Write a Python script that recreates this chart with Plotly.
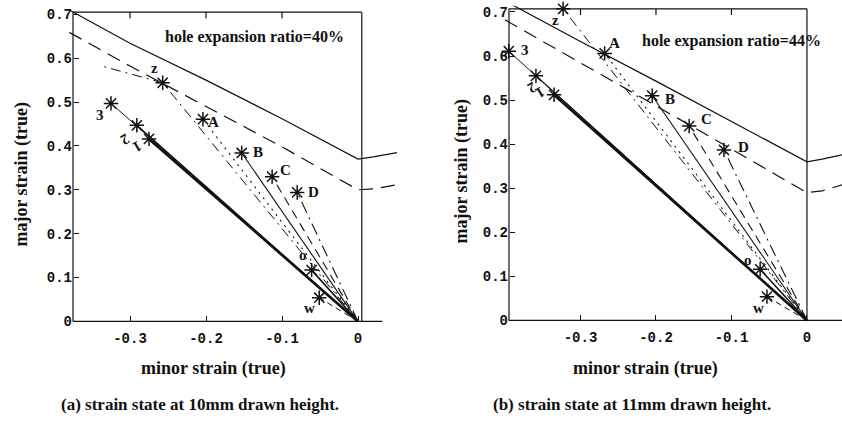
import plotly.graph_objects as go

W, H = 842, 425

# ---------------- data ----------------
# forming-limit curves, panel (a)
fld_a_x = [-0.38, -0.30, -0.20, -0.10, 0.0, 0.02, 0.052]
fld_a_solid_y = [0.710, 0.634, 0.550, 0.462, 0.370, 0.375, 0.385]
fld_a_dash_y = [0.659, 0.582, 0.490, 0.398, 0.300, 0.302, 0.312]
# forming-limit curves, panel (b)
fld_b_x = [-0.40, -0.30, -0.20, -0.10, 0.0, 0.02, 0.047]
fld_b_solid_y = [0.725, 0.633, 0.543, 0.452, 0.360, 0.366, 0.376]
fld_b_dash_y = [0.682, 0.585, 0.487, 0.389, 0.290, 0.294, 0.308]

# measured points (end of strain paths)
point_labels = ["1", "2", "3", "z", "A", "B", "C", "D", "o", "w"]
pts_a_x = [-0.275, -0.291, -0.325, -0.257, -0.204, -0.153, -0.113, -0.080, -0.061, -0.051]
pts_a_y = [0.416, 0.447, 0.497, 0.544, 0.461, 0.384, 0.330, 0.294, 0.117, 0.054]
pts_b_x = [-0.335, -0.359, -0.395, -0.323, -0.268, -0.205, -0.156, -0.110, -0.062, -0.053]
pts_b_y = [0.512, 0.555, 0.611, 0.707, 0.606, 0.510, 0.441, 0.387, 0.116, 0.054]
# tail of path "z" in panel (a)
z_tail_a_x = [-0.337]
z_tail_a_y = [0.582]

x_ticks = [-0.3, -0.2, -0.1, 0]
y_ticks = [0, 0.1, 0.2, 0.3, 0.4, 0.5, 0.6, 0.7]

# ---------------- styles ----------------
path_styles = {
    "1": dict(width=2.6, dash="solid"),
    "2": dict(width=1.3, dash="solid"),
    "3": dict(width=1.0, dash="solid"),
    "z": dict(width=1.0, dash="10px,5px,2px,5px"),
    "A": dict(width=1.1, dash="2px,5px"),
    "B": dict(width=1.1, dash="solid"),
    "C": dict(width=1.1, dash="9px,6px"),
    "D": dict(width=1.1, dash="12px,5px,2px,5px"),
    "o": dict(width=1.6, dash="solid"),
    "w": dict(width=1.0, dash="6px,4px"),
}
label_shift_a = {"1": (-12, 8), "2": (-12, 14), "3": (-11, 12), "z": (-8, -15), "A": (11, 3),
                 "B": (16, -1), "C": (13, -7), "D": (16, 0), "o": (-9, -15), "w": (-10, 10)}
label_shift_b = {"1": (-14, -2), "2": (-4, 12), "3": (16, -1), "z": (-8, 11), "A": (10, -10),
                 "B": (18, 3), "C": (17, -7), "D": (20, -3), "o": (-12, -9), "w": (-8, 11)}

BLACK = "#111111"
fig = go.Figure()


def add_panel(xa, ya, fx, fs, fd, px, py, shifts, tail=None):
    fig.add_trace(go.Scatter(x=fx, y=fs, mode="lines", xaxis=xa, yaxis=ya,
                             line=dict(color=BLACK, width=1.2), showlegend=False, hoverinfo="skip"))
    fig.add_trace(go.Scatter(x=fx, y=fd, mode="lines", xaxis=xa, yaxis=ya,
                             line=dict(color=BLACK, width=1.2, dash="14px,8px"),
                             showlegend=False, hoverinfo="skip"))
    for lab, x, y in zip(point_labels, px, py):
        xs, ys = [0, x], [0, y]
        if lab == "z" and tail is not None:
            xs = xs + tail[0]
            ys = ys + tail[1]
        st = path_styles[lab]
        fig.add_trace(go.Scatter(x=xs, y=ys, mode="lines", xaxis=xa, yaxis=ya,
                                 line=dict(color=BLACK, width=st["width"], dash=st["dash"]),
                                 showlegend=False, hoverinfo="skip"))
    fig.add_trace(go.Scatter(x=px, y=py, mode="markers", xaxis=xa, yaxis=ya, cliponaxis=False,
                             marker=dict(symbol="asterisk-open", size=12, color=BLACK,
                                         line=dict(color=BLACK, width=1.5)),
                             showlegend=False, hoverinfo="skip"))
    for lab, x, y in zip(point_labels, px, py):
        dx, dy = shifts[lab]
        fig.add_annotation(x=x, y=y, xref=xa, yref=ya, text=lab, showarrow=False,
                           xshift=dx, yshift=-dy,
                           textangle=150 if lab in ("1", "2") else 0,
                           font=dict(family="Liberation Serif", size=15, color=BLACK, weight="bold"))


add_panel("x", "y", fld_a_x, fld_a_solid_y, fld_a_dash_y, pts_a_x, pts_a_y, label_shift_a,
          tail=(z_tail_a_x, z_tail_a_y))
add_panel("x2", "y2", fld_b_x, fld_b_solid_y, fld_b_dash_y, pts_b_x, pts_b_y, label_shift_b)

tickfont = dict(family="Liberation Mono", size=14, color=BLACK, weight="bold")

# panel geometry (pixels): a: x0 at 358, 760 px/unit, y0 at 324, 445 px/unit
#                          b: x0 at 807, 755 px/unit, y0 at 323, 447 px/unit
a_xr = [-0.38, 0.0513]
a_yr = [-0.01, 0.712]
b_xr = [-0.40, 0.0464]
b_yr = [-0.01, 0.714]
a_dom_x = [(358 + a_xr[0] * 760) / W, (358 + a_xr[1] * 760) / W]
a_dom_y = [1 - (324 - a_yr[0] * 445) / H, 1 - (324 - a_yr[1] * 445) / H]
b_dom_x = [(807 + b_xr[0] * 755) / W, min(1.0, (807 + b_xr[1] * 755) / W)]
b_dom_y = [1 - (323 - b_yr[0] * 447) / H, 1 - (323 - b_yr[1] * 447) / H]

a_frame_l, a_frame_r, a_frame_t, a_bottom_r = -0.375, 0.005, 0.705, 0.032
b_frame_l, b_frame_r, b_frame_t, b_bottom_r = -0.3947, 0.0, 0.707, 0.0464

common_x = dict(tickvals=x_ticks, ticktext=["-0.3", "-0.2", "-0.1", "0"], ticks="inside", ticklen=5,
                tickcolor=BLACK, tickfont=tickfont, showgrid=False, zeroline=False, showline=False,
                ticklabelstandoff=7, fixedrange=True)
common_y = dict(tickvals=y_ticks, ticktext=["0", "0.1", "0.2", "0.3", "0.4", "0.5", "0.6", "0.7"],
                ticks="inside", ticklen=5, tickcolor=BLACK, tickfont=tickfont, showgrid=False,
                zeroline=False, showline=False, ticklabelstandoff=1, fixedrange=True)

fig.update_layout(
    width=W, height=H, margin=dict(l=0, r=0, t=0, b=0),
    paper_bgcolor="white", plot_bgcolor="white",
    xaxis=dict(domain=a_dom_x, range=a_xr, anchor="free", position=1 - 324 / H, **common_x),
    yaxis=dict(domain=a_dom_y, range=a_yr, anchor="free", position=(358 + a_frame_l * 760) / W, **common_y),
    xaxis2=dict(domain=b_dom_x, range=b_xr, anchor="free", position=1 - 323 / H, **common_x),
    yaxis2=dict(domain=b_dom_y, range=b_yr, anchor="free", position=(807 + b_frame_l * 755) / W, **common_y),
)

# frames and top tick marks
frame_line = dict(color=BLACK, width=1.2)
for xr, yr, (l, r, t, br) in (("x", "y", (a_frame_l, a_frame_r, a_frame_t, a_bottom_r)),
                               ("x2", "y2", (b_frame_l, b_frame_r, b_frame_t, b_bottom_r))):
    fig.add_shape(type="line", xref=xr, yref=yr, x0=l, x1=r, y0=t, y1=t, line=frame_line)
    fig.add_shape(type="line", xref=xr, yref=yr, x0=r, x1=r, y0=0, y1=t, line=frame_line)
    fig.add_shape(type="line", xref=xr, yref=yr, x0=l, x1=l, y0=0, y1=t, line=frame_line)
    fig.add_shape(type="line", xref=xr, yref=yr, x0=l, x1=br, y0=0, y1=0, line=frame_line)
    for tv in x_ticks[:3]:
        fig.add_shape(type="line", xref=xr, yref=yr, x0=tv, x1=tv, y0=t, y1=t - 0.014, line=frame_line)

serif = "Liberation Serif"
# titles, in-plot notes and captions
texts = [
    ("hole expansion ratio=40%", 254 / W, 1 - 35 / H, 0, 16),
    ("hole expansion ratio=44%", 731 / W, 1 - 40 / H, 0, 16),
    ("major strain (true)", 22 / W, 1 - 175 / H, -90, 18),
    ("major strain (true)", 462 / W, 1 - 172 / H, -90, 18),
    ("minor strain (true)", 213 / W, 1 - 372 / H, 0, 18),
    ("minor strain (true)", 645 / W, 1 - 372 / H, 0, 18),
    ("(a) strain state at 10mm drawn height.", 200 / W, 1 - 408 / H, 0, 17),
    ("(b) strain state at 11mm drawn height.", 632 / W, 1 - 408 / H, 0, 17),
]
for txt, x, y, ang, size in texts:
    fig.add_annotation(x=x, y=y, xref="paper", yref="paper", text=txt, showarrow=False,
                       textangle=ang, xanchor="center", yanchor="middle",
                       font=dict(family=serif, size=size, color=BLACK, weight="bold"))

fig.write_html("out.html")
